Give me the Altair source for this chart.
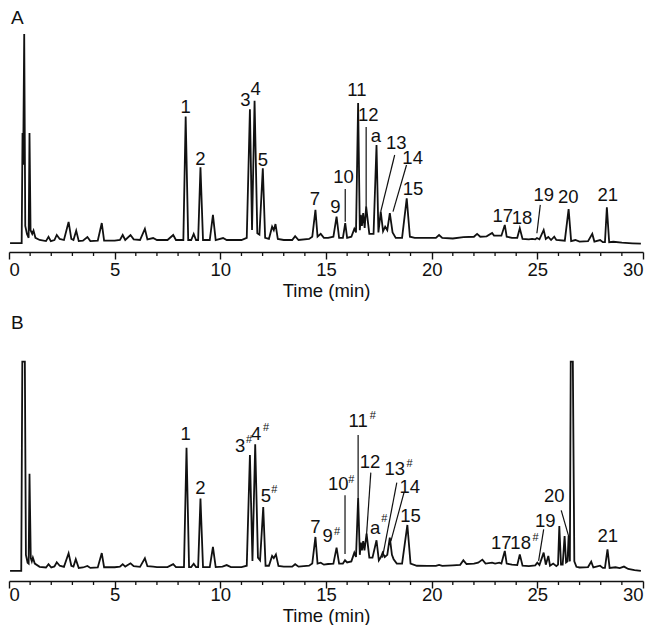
import altair as alt
import pandas as pd

FONT = "Liberation Sans"

# ---- Panel A trace: (time min, relative intensity) ----
A_TRACE = [
    (0.05, 4.1), (0.60, 4.1), (0.64, 54.6), (0.67, 40.0), (0.72, 100.0), (0.77, 12.0),
    (0.85, 8.3), (0.93, 6.5), (0.97, 54.6), (1.02, 10.0), (1.10, 8.3), (1.16, 9.8),
    (1.25, 6.5), (1.45, 5.5), (1.75, 5.0), (1.87, 7.0), (1.98, 5.0), (2.15, 5.5),
    (2.26, 7.8), (2.40, 6.0), (2.60, 5.5), (2.82, 13.8), (2.95, 6.0), (3.05, 5.5),
    (3.18, 9.8), (3.30, 5.0), (3.50, 5.2), (3.71, 6.9), (3.85, 5.0), (4.20, 5.2),
    (4.39, 13.3), (4.50, 5.2), (5.00, 5.2), (5.25, 5.5), (5.38, 7.8), (5.50, 5.5),
    (5.75, 7.8), (5.90, 5.8), (6.20, 5.5), (6.43, 10.6), (6.55, 5.8), (6.82, 6.4),
    (7.00, 5.5), (7.50, 5.5), (7.77, 7.8), (7.90, 5.5), (8.25, 5.5), (8.36, 62.1),
    (8.48, 5.5), (8.62, 5.5), (8.74, 8.3), (8.85, 5.5), (8.95, 5.5), (9.06, 38.9),
    (9.18, 5.5), (9.50, 5.5), (9.65, 17.0), (9.78, 5.5), (10.13, 6.4), (10.30, 5.5),
    (11.00, 5.5), (11.25, 6.5), (11.40, 65.5), (11.50, 10.1), (11.62, 69.4), (11.75, 8.6),
    (11.85, 8.0), (12.01, 38.4), (12.12, 6.5), (12.30, 6.0), (12.45, 11.6), (12.53, 10.0),
    (12.61, 12.8), (12.72, 6.0), (13.00, 5.5), (13.40, 5.5), (13.54, 7.3), (13.70, 5.5),
    (14.20, 6.0), (14.35, 7.0), (14.50, 19.3), (14.60, 7.0), (14.75, 8.3), (14.90, 6.5),
    (15.10, 6.5), (15.35, 7.0), (15.50, 16.2), (15.62, 6.5), (15.80, 6.5), (15.91, 13.2),
    (16.00, 6.5), (16.20, 7.0), (16.34, 10.6), (16.42, 9.0), (16.52, 68.3), (16.60, 10.0),
    (16.65, 17.0), (16.70, 12.0), (16.76, 17.9), (16.83, 11.0), (16.90, 20.8), (17.05, 8.3),
    (17.25, 8.3), (17.39, 49.1), (17.48, 9.0), (17.59, 18.5), (17.70, 9.5), (17.80, 11.6),
    (17.90, 10.0), (18.02, 17.8), (18.15, 9.0), (18.30, 6.5), (18.60, 6.5), (18.82, 24.6),
    (18.97, 7.0), (19.20, 6.5), (19.80, 6.5), (20.20, 6.5), (20.35, 7.8), (20.50, 6.5),
    (21.00, 6.2), (21.50, 6.8), (22.00, 7.0), (22.15, 8.3), (22.30, 7.0), (22.60, 7.2),
    (22.86, 8.7), (22.95, 7.5), (23.10, 7.5), (23.30, 7.5), (23.46, 12.4), (23.55, 7.0),
    (23.80, 6.5), (24.05, 6.5), (24.17, 10.9), (24.30, 6.0), (24.60, 5.8), (24.75, 6.0),
    (24.90, 5.8), (24.98, 6.4), (25.10, 5.8), (25.30, 10.1), (25.40, 6.0), (25.52, 6.9),
    (25.65, 5.5), (25.80, 7.0), (25.90, 5.5), (26.30, 5.2), (26.48, 19.7), (26.60, 5.0),
    (26.80, 5.5), (27.00, 4.8), (27.40, 5.0), (27.60, 8.3), (27.70, 4.8), (27.97, 5.5),
    (28.10, 4.5), (28.20, 4.5), (28.29, 20.5), (28.40, 4.5), (28.60, 4.7), (29.00, 4.3),
    (29.50, 4.0), (29.90, 3.8),
]

# ---- Panel B trace ----
B_TRACE = [
    (0.05, 4.6), (0.58, 4.6), (0.63, 100.6), (0.75, 100.6), (0.80, 12.0), (0.88, 8.4),
    (0.93, 8.0), (0.97, 49.2), (1.03, 10.5), (1.08, 9.0), (1.13, 10.7), (1.22, 8.0),
    (1.45, 6.5), (1.75, 6.2), (1.87, 7.7), (2.00, 6.2), (2.15, 6.7), (2.26, 8.6),
    (2.40, 7.0), (2.60, 6.5), (2.82, 12.7), (2.95, 7.0), (3.05, 6.6), (3.16, 10.0),
    (3.30, 6.0), (3.50, 6.2), (3.71, 6.9), (3.85, 6.0), (4.20, 6.2), (4.39, 12.8),
    (4.50, 6.3), (5.00, 6.3), (5.25, 6.6), (5.38, 7.7), (5.50, 6.6), (5.75, 8.1),
    (5.90, 6.8), (6.20, 6.5), (6.43, 10.4), (6.55, 6.8), (6.82, 6.6), (7.00, 6.4),
    (7.50, 6.4), (7.77, 7.7), (7.90, 6.4), (8.28, 6.4), (8.40, 61.1), (8.52, 6.4),
    (8.62, 6.4), (8.74, 7.9), (8.85, 6.4), (8.95, 6.4), (9.06, 37.8), (9.18, 6.4),
    (9.50, 6.4), (9.65, 15.6), (9.78, 6.4), (10.10, 6.6), (10.30, 7.3), (10.50, 6.4),
    (11.00, 6.4), (11.25, 7.0), (11.40, 57.8), (11.52, 9.2), (11.65, 62.7), (11.78, 10.7),
    (11.88, 9.5), (12.03, 33.9), (12.14, 7.0), (12.30, 7.0), (12.45, 11.5), (12.53, 10.5),
    (12.63, 12.2), (12.75, 6.9), (13.00, 6.6), (13.40, 6.6), (13.54, 7.7), (13.70, 6.6),
    (14.20, 7.0), (14.35, 8.0), (14.50, 20.2), (14.60, 8.0), (14.75, 8.4), (14.90, 7.5),
    (15.10, 7.8), (15.35, 8.0), (15.50, 15.3), (15.62, 8.0), (15.80, 8.0), (15.90, 9.5),
    (16.00, 8.5), (16.20, 9.0), (16.34, 13.0), (16.42, 11.0), (16.52, 38.1), (16.60, 12.0),
    (16.65, 17.6), (16.70, 14.0), (16.76, 18.3), (16.82, 14.0), (16.92, 21.7), (17.05, 10.7),
    (17.20, 10.7), (17.39, 18.7), (17.50, 9.5), (17.60, 11.0), (17.68, 13.0), (17.78, 11.0),
    (17.90, 12.0), (18.02, 19.9), (18.12, 12.0), (18.20, 10.0), (18.35, 8.0), (18.60, 8.0),
    (18.85, 25.7), (19.00, 8.0), (19.30, 7.0), (19.80, 6.9), (20.20, 6.9), (20.35, 7.4),
    (20.50, 6.9), (21.00, 7.2), (21.35, 7.4), (21.50, 9.5), (21.65, 7.8), (22.00, 8.0),
    (22.20, 8.4), (22.40, 9.8), (22.55, 8.0), (22.86, 8.4), (23.00, 8.0), (23.20, 8.4),
    (23.30, 8.0), (23.46, 13.8), (23.55, 8.0), (23.80, 7.5), (24.05, 7.3), (24.17, 12.2),
    (24.30, 7.0), (24.60, 6.8), (24.90, 7.2), (25.00, 8.4), (25.10, 7.3), (25.30, 13.0),
    (25.40, 7.5), (25.52, 11.5), (25.60, 7.0), (25.75, 8.0), (25.90, 6.8), (25.98, 7.5),
    (26.04, 25.2), (26.12, 7.5), (26.20, 7.5), (26.29, 20.6), (26.36, 8.5), (26.43, 9.0),
    (26.48, 20.6), (26.54, 9.0), (26.58, 100.6), (26.68, 100.6), (26.75, 9.0), (26.85, 6.5),
    (27.00, 6.2), (27.40, 6.4), (27.55, 8.9), (27.65, 6.2), (27.97, 7.0), (28.10, 6.0),
    (28.20, 6.0), (28.32, 14.5), (28.42, 6.0), (28.70, 6.3), (28.90, 5.9), (29.10, 6.6),
    (29.30, 5.5), (29.60, 5.0), (29.90, 4.6),
]

# ---- Peak labels: (text, time, intensity) ----
A_LABELS = [
    ("1", 8.36, 66.7), ("2", 9.06, 42.7), ("3", 11.19, 69.7), ("4", 11.67, 74.6),
    ("5", 12.01, 42.2), ("7", 14.48, 24.3), ("9", 15.44, 20.8), ("10", 15.83, 34.5),
    ("11", 16.46, 74.3), ("12", 17.00, 62.8), ("a", 17.36, 53.0), ("13", 18.32, 49.9),
    ("14", 19.10, 43.0), ("15", 19.12, 28.9), ("17", 23.36, 16.5), ("18", 24.28, 15.5),
    ("19", 25.30, 26.1), ("20", 26.46, 25.4), ("21", 28.33, 26.1),
]
B_LABELS = [
    ("1", 8.36, 67.3), ("2", 9.06, 42.5), ("3", 10.94, 61.9), ("4", 11.70, 67.3),
    ("5", 12.15, 39.0), ("7", 14.50, 24.8), ("9", 15.08, 20.6), ("10", 15.58, 44.4),
    ("11", 16.52, 73.4), ("12", 17.08, 54.7), ("a", 17.32, 24.5), ("13", 18.25, 51.2),
    ("14", 18.96, 43.1), ("15", 19.00, 29.8), ("17", 23.29, 17.6), ("18", 24.21, 17.6),
    ("19", 25.38, 27.5), ("20", 25.80, 39.0), ("21", 28.33, 20.6),
]
# superscript "#" marks in panel B: (time, intensity)
B_SUPS = [
    (11.36, 64.5), (12.16, 70.0), (12.55, 41.6), (15.52, 22.6), (16.20, 46.2),
    (17.22, 75.7), (17.76, 28.3), (18.95, 53.5), (24.92, 19.9),
]
# leader lines: (t1, v1, t2, v2)
A_LEADERS = [
    (15.91, 28.9, 15.91, 13.9), (16.90, 57.3, 16.90, 20.6), (18.25, 44.5, 17.59, 18.5),
    (18.81, 39.9, 18.17, 18.5), (25.14, 21.6, 24.98, 8.6),
]
B_LEADERS = [
    (15.90, 39.3, 15.90, 12.4), (16.52, 67.0, 16.52, 38.1), (17.12, 49.7, 16.92, 21.4),
    (18.35, 45.1, 17.67, 10.7), (18.69, 40.5, 18.07, 18.3), (25.30, 23.7, 25.06, 9.2),
    (26.13, 32.4, 26.48, 20.6),
]
PANEL_LETTERS = {"A": (0.40, 107.3), "B": (0.40, 118.5)}

MAJOR_TICKS = [0, 5, 10, 15, 20, 25, 30]
MINOR_TICKS = [v for v in range(31) if v % 5 != 0]

W = 634
A_H, A_YMAX = 244, 244 / 2.18
B_H, B_YMAX = 274, 274 / 2.18


def panel(trace, labels, sups, leaders, letter, height, ymax, lab_pad):
    xs = alt.Scale(domain=[0, 30], nice=False, zero=False)
    ys = alt.Scale(domain=[0, ymax], nice=False)
    axis = alt.Axis(values=MAJOR_TICKS, title="Time (min)", format="d", grid=False,
                    tickSize=7, labelPadding=lab_pad, titlePadding=3,
                    domainColor="#111111", domainWidth=1.6, tickColor="#111111", tickWidth=1.4,
                    labelFont=FONT, labelFontSize=18.5, labelColor="#111111",
                    titleFont=FONT, titleFontSize=18.5, titleFontWeight="normal",
                    titleColor="#111111")
    X = lambda f: alt.X(f, type="quantitative", scale=xs, axis=axis)
    Y = lambda f: alt.Y(f, type="quantitative", scale=ys, axis=None)

    tdf = pd.DataFrame(trace, columns=["t", "v"])
    tdf["i"] = range(len(tdf))
    line = alt.Chart(tdf).mark_line(color="#111111", strokeWidth=1.8, strokeJoin="miter").encode(
        x=X("t"), y=Y("v"), order="i:Q")

    minor = alt.Chart(pd.DataFrame({"t": MINOR_TICKS})).mark_rule(
        color="#111111", strokeWidth=1.3).encode(
        x=X("t"), y=alt.value(height), y2=alt.value(height + 4))

    ldf = pd.DataFrame(leaders, columns=["t", "v", "t2", "v2"])
    lead = alt.Chart(ldf).mark_rule(color="#111111", strokeWidth=1.2).encode(
        x=X("t"), y=Y("v"), x2="t2:Q", y2="v2:Q")

    tx = pd.DataFrame(labels, columns=["txt", "t", "v"])
    text = alt.Chart(tx).mark_text(font=FONT, fontSize=18.5, color="#111111",
                                   align="center", baseline="middle").encode(
        x=X("t"), y=Y("v"), text="txt:N")

    lt, lv = PANEL_LETTERS[letter]
    let = alt.Chart(pd.DataFrame({"txt": [letter], "t": [lt], "v": [lv]})).mark_text(
        font=FONT, fontSize=19, color="#111111", align="center", baseline="middle").encode(
        x=X("t"), y=Y("v"), text="txt:N")

    layers = [line, minor, lead, text, let]
    if sups:
        sdf = pd.DataFrame(sups, columns=["t", "v"])
        sdf["txt"] = "#"
        sup = alt.Chart(sdf).mark_text(font=FONT, fontSize=11, color="#111111",
                                       align="center", baseline="middle").encode(
            x=X("t"), y=Y("v"), text="txt:N")
        layers.append(sup)
    return alt.layer(*layers).properties(width=W, height=height)


pa = panel(A_TRACE, A_LABELS, [], A_LEADERS, "A", A_H, A_YMAX, 1)
pb = panel(B_TRACE, B_LABELS, B_SUPS, B_LEADERS, "B", B_H, B_YMAX, -3)

chart = alt.vconcat(pa, pb, spacing=7).properties(
    padding={"left": -2, "top": 0, "right": 0, "bottom": 0},
    background="white",
).configure_view(stroke=None)

chart.save("out.html", embed_options={"renderer": "svg", "actions": False})
